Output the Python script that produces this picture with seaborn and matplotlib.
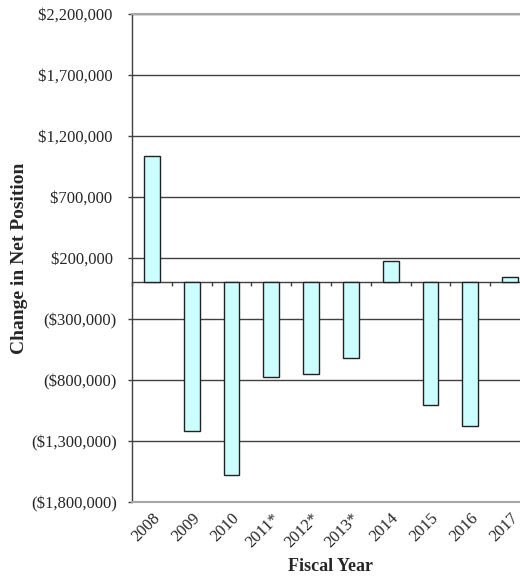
import numpy as np
import pandas as pd
import matplotlib
matplotlib.use("Agg")
import matplotlib.pyplot as plt
import seaborn as sns

# ---- data ----
years = ["2008", "2009", "2010", "2011*", "2012*", "2013*", "2014", "2015", "2016", "2017"]
change = [1033000, -1215000, -1579000, -779000, -748000, -623000, 178000, -1008000, -1175000, 41000]
y_ticks = [-1800000, -1300000, -800000, -300000, 200000, 700000, 1200000, 1700000, 2200000]

def money(v):
    return f"(${abs(v):,.0f})" if v < 0 else f"${v:,.0f} "

y_tick_labels = [money(v) for v in y_ticks]

df = pd.DataFrame({"year": years, "change": change})

sns.set_theme(style="white")
plt.rcParams["font.family"] = ["Liberation Serif", "DejaVu Serif"]

fig = plt.figure(figsize=(5.20, 5.77), dpi=100)
W, H = 520, 577
ax = fig.add_axes([132 / W, (H - 502) / H, 398 / W, 488 / H])

sns.barplot(data=df, x="year", y="change", ax=ax, color="#CCFFFF",
            edgecolor="#222222", linewidth=1.0, width=0.4, saturation=1,
            zorder=3)

ymin, ymax = y_ticks[0], y_ticks[-1]
ax.set_ylim(ymin, ymax)
ax.set_xlim(-0.5, len(years) - 0.5)

ax.set_yticks(y_ticks)
ax.set_yticklabels(y_tick_labels, fontsize=12)
ax.yaxis.grid(True, color="#404040", linewidth=1.0, zorder=0)
ax.set_axisbelow(True)

ax.tick_params(axis="y", direction="out", length=3, width=1, color="#404040",
               pad=8, left=True)
ax.tick_params(axis="x", length=0, pad=6, labelsize=12)
for lab in ax.get_xticklabels():
    lab.set_rotation(45)
    lab.set_ha("right")
    lab.set_rotation_mode("anchor")

for side in ["top", "bottom"]:
    ax.spines[side].set_color("#a6a6a6")
    ax.spines[side].set_linewidth(1.5)
ax.spines["right"].set_visible(False)
ax.spines["left"].set_color("#404040")
ax.spines["left"].set_linewidth(1.0)

# zero line with boundary ticks
zero_frac = (0 - ymin) / (ymax - ymin)
sec = ax.secondary_xaxis(zero_frac)
sec.set_xticks(np.arange(len(years) + 1) - 0.5)
sec.set_xticklabels([])
sec.tick_params(direction="out", length=3, width=1, color="#404040")
sec.spines["bottom"].set_color("#404040")
sec.spines["bottom"].set_linewidth(1.0)
sec.spines["top"].set_visible(False)

ax.set_xlabel("Fiscal Year", fontsize=13, fontweight="bold", labelpad=5)
ax.set_ylabel("Change in Net Position", fontsize=14, fontweight="bold", labelpad=2)

fig.savefig("out.png", dpi=100)
